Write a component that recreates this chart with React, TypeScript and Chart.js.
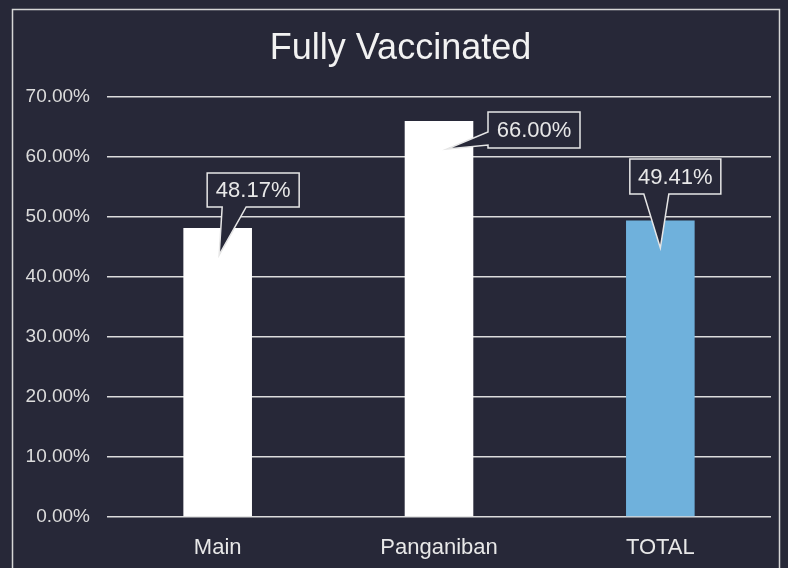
import React, { useEffect, useRef } from "react";
import { Chart, registerables } from "chart.js";

Chart.register(...registerables);

const categories = ["Main", "Panganiban", "TOTAL"];
const values = [48.17, 66.0, 49.41];
const yTicks = [0, 10, 20, 30, 40, 50, 60, 70];
const titleText = "Fully Vaccinated";

const BG = "#272838";
const FG = "#e8e8e8";
const FONT = "'Liberation Sans', Arial, sans-serif";

// callout geometry relative to bar top-center (styling only)
const callouts = [
  { dx: -10.5, dy: -55, w: 92, h: 34, side: "bottom", b1: 4.5, b2: 28.5, tx: 1.5, ty: 27 },
  { dx: 49, dy: -9, w: 92, h: 36, side: "left", b1: 11, b2: 24, tx: 8, ty: 28 },
  { dx: -30.5, dy: -61.5, w: 91, h: 35, side: "bottom", b1: -16.5, b2: 8.5, tx: 0, ty: 27.5 },
];

const framePlugin = {
  id: "frame",
  beforeDraw(chart: any) {
    const ctx = chart.ctx;
    ctx.save();
    ctx.fillStyle = BG;
    ctx.fillRect(0, 0, chart.width, chart.height);
    ctx.strokeStyle = "#d6d6d6";
    ctx.lineWidth = 1.5;
    ctx.strokeRect(12.5, 9.5, 767, 700);
    // title
    ctx.fillStyle = "#f2f2f2";
    ctx.font = `36px ${FONT}`;
    ctx.textAlign = "center";
    ctx.textBaseline = "alphabetic";
    ctx.fillText(titleText, 400.5, 59);
    ctx.restore();
  },
};

const calloutPlugin = {
  id: "callouts",
  afterDatasetsDraw(chart: any) {
    const ctx = chart.ctx;
    const meta = chart.getDatasetMeta(0);
    ctx.save();
    meta.data.forEach((bar: any, i: number) => {
      const c = callouts[i];
      const x0 = bar.x + c.dx;
      const y0 = bar.y + c.dy;
      const x1 = x0 + c.w;
      const y1 = y0 + c.h;
      ctx.beginPath();
      if (c.side === "bottom") {
        ctx.moveTo(x0, y0);
        ctx.lineTo(x1, y0);
        ctx.lineTo(x1, y1);
        ctx.lineTo(bar.x + c.b2, y1);
        ctx.lineTo(bar.x + c.tx, bar.y + c.ty);
        ctx.lineTo(bar.x + c.b1, y1);
        ctx.lineTo(x0, y1);
        ctx.closePath();
      } else {
        ctx.moveTo(x0, y0);
        ctx.lineTo(x1, y0);
        ctx.lineTo(x1, y1);
        ctx.lineTo(x0, y1);
        ctx.lineTo(x0, bar.y + c.b2);
        ctx.lineTo(bar.x + c.tx, bar.y + c.ty);
        ctx.lineTo(x0, bar.y + c.b1);
        ctx.closePath();
      }
      ctx.fillStyle = BG;
      ctx.fill();
      ctx.strokeStyle = "#e6e6e6";
      ctx.lineWidth = 1.5;
      ctx.lineJoin = "miter";
      ctx.stroke();
      ctx.fillStyle = FG;
      ctx.font = `22px ${FONT}`;
      ctx.textAlign = "center";
      ctx.textBaseline = "middle";
      ctx.fillText(values[i].toFixed(2) + "%", (x0 + x1) / 2, (y0 + y1) / 2 + 1);
    });
    ctx.restore();
  },
};

export default function App() {
  const ref = useRef<HTMLCanvasElement | null>(null);
  useEffect(() => {
    document.body.style.margin = "0";
    document.body.style.background = BG;
    const chart = new Chart(ref.current as HTMLCanvasElement, {
      type: "bar",
      data: {
        labels: categories,
        datasets: [
          {
            data: values,
            backgroundColor: ["#ffffff", "#ffffff", "#6fb1dc"],
            borderWidth: 0,
            barPercentage: 0.31,
            categoryPercentage: 1,
          },
        ],
      },
      options: {
        responsive: false,
        animation: false,
        layout: { padding: { left: 0, right: 17, top: 97, bottom: 0 } },
        plugins: {
          legend: { display: false },
          tooltip: { enabled: false },
          title: { display: false },
        },
        scales: {
          x: {
            grid: { display: false },
            border: { display: false },
            ticks: {
              color: FG,
              font: { family: FONT, size: 22 },
              padding: 10,
            },
            afterFit(scale: any) {
              scale.height = 51;
            },
          },
          y: {
            min: 0,
            max: 70,
            afterBuildTicks(scale: any) {
              scale.ticks = yTicks.map((v) => ({ value: v }));
            },
            grid: { color: "#dcdcdc", lineWidth: 1.5, drawTicks: false },
            border: { display: false },
            ticks: {
              color: "#dcdcdc",
              font: { family: FONT, size: 19 },
              padding: 17,
              callback: (v: any) => Number(v).toFixed(2) + "%",
            },
            afterFit(scale: any) {
              scale.width = 107;
            },
          },
        },
      },
      plugins: [framePlugin, calloutPlugin],
    });
    return () => chart.destroy();
  }, []);
  return (
    <div style={{ position: "fixed", left: 0, top: 0, width: 788, height: 568, background: BG }}>
      <canvas ref={ref} width={788} height={568} style={{ display: "block" }} />
    </div>
  );
}
